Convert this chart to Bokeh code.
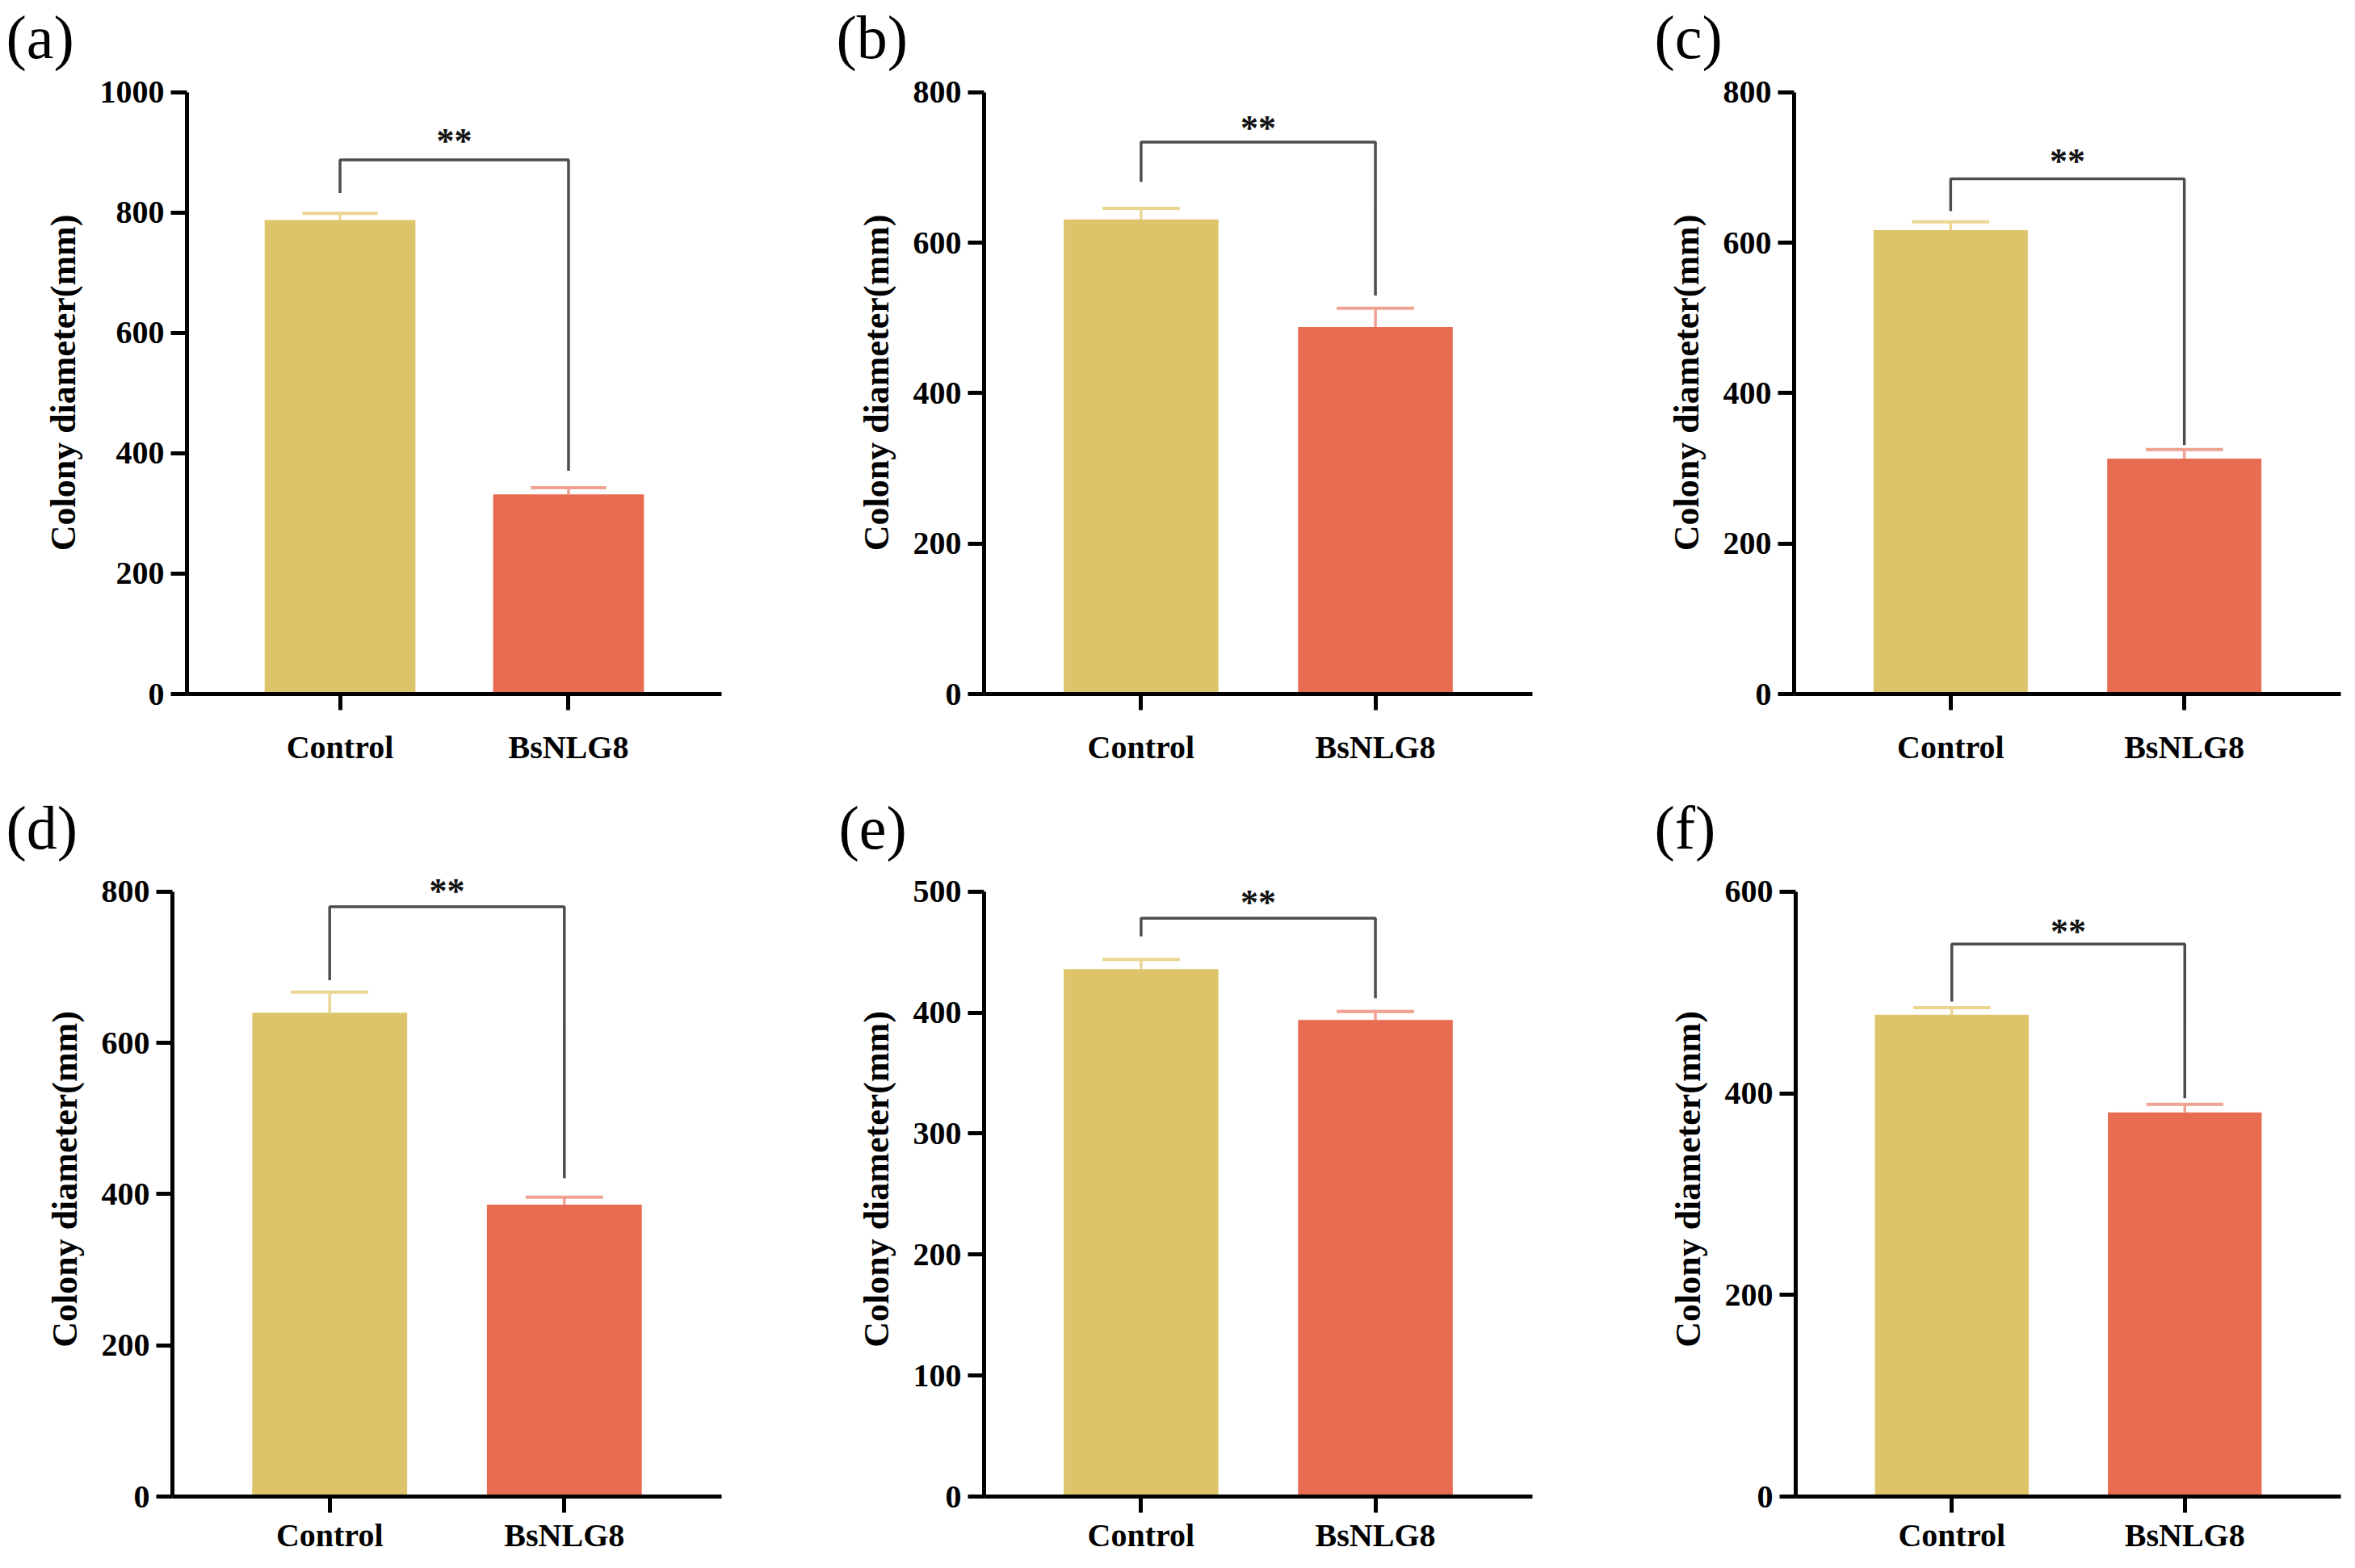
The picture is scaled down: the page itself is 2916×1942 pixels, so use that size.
from bokeh.plotting import figure
from bokeh.models import Range1d, FixedTicker, Title
from bokeh.layouts import column, row
from bokeh.embed import file_html
from bokeh.resources import INLINE
from bokeh.core.properties import value

# ---------------- data ----------------
categories = ["Control", "BsNLG8"]
panel_tags = ["(a)", "(b)", "(c)", "(d)", "(e)", "(f)"]
y_label = "Colony diameter(mm)"

a_mean = [788, 332]
a_err = [11, 11]
b_mean = [631, 488]
b_err = [15, 25]
c_mean = [617, 313]
c_err = [11, 12]
d_mean = [640, 386]
d_err = [27, 10]
e_mean = [436, 394]
e_err = [8, 7]
f_mean = [478, 381]
f_err = [7, 8]

# significance bracket: [left leg bottom, bracket top, right leg bottom, star level]
a_sig = [833, 888, 371, 933]
b_sig = [681, 734, 530, 763]
c_sig = [642, 685, 331, 719]
d_sig = [683, 780, 421, 812]
e_sig = [463, 478, 412, 498]
f_sig = [491, 548, 395, 569]
sig_text = "**"

y_max = [1000, 800, 800, 800, 500, 600]
y_ticks = [
    [0, 200, 400, 600, 800, 1000],
    [0, 200, 400, 600, 800],
    [0, 200, 400, 600, 800],
    [0, 200, 400, 600, 800],
    [0, 100, 200, 300, 400, 500],
    [0, 200, 400, 600],
]

means = [a_mean, b_mean, c_mean, d_mean, e_mean, f_mean]
errs = [a_err, b_err, c_err, d_err, e_err, f_err]
sigs = [a_sig, b_sig, c_sig, d_sig, e_sig, f_sig]

# ---------------- styles / layout ----------------
bar_colors = ["#DDC46B", "#E76C51"]
err_colors = ["#EAD690", "#EFA291"]
bracket_color = "#4D4D4D"
FONT = "Liberation Serif"

col_w = [952, 984, 964]
row_h = [963, 963]
# per row: top border, bottom border, pixel height of the axis (0..max tick)
row_top = [87, 104]
row_bottom = [104, 69]
axis_px = [746, 753]
# per column-panel: left, right border
lr_borders = [(231, 59), (266, 39), (285, 2), (213, 59), (266, 39), (287, 2)]
x_standoff = [23, 5]
tag_offset = [-224, -183, -173, -206, -180, -175]


def make_panel(k):
    r = k // 3
    w = col_w[k % 3]
    h = row_h[r]
    bl, br = lr_borders[k]
    bt, bb = row_top[r], row_bottom[r]
    frame_h = h - bt - bb
    y_end = y_max[k] * frame_h / axis_px[r]
    p = figure(width=w, height=h, output_backend="svg", toolbar_location=None,
               x_range=Range1d(-0.67, 1.67), y_range=Range1d(0, y_end),
               min_border_left=bl, min_border_right=br,
               min_border_top=bt, min_border_bottom=bb)
    p.background_fill_color = "white"
    p.border_fill_color = "white"
    p.outline_line_color = None
    p.xgrid.grid_line_color = None
    p.ygrid.grid_line_color = None

    idx = list(range(len(categories)))
    m = means[k]
    e = errs[k]
    tops = [mi + ei for mi, ei in zip(m, e)]

    p.vbar(x=idx, top=m, bottom=0, width=0.66, fill_color=bar_colors, line_color=None)
    # error bars (upper only)
    p.segment(x0=idx, y0=m, x1=idx, y1=tops, line_color=err_colors, line_width=3.5)
    p.segment(x0=[i - 0.165 for i in idx], y0=tops, x1=[i + 0.165 for i in idx], y1=tops,
              line_color=err_colors, line_width=4)

    s = sigs[k]
    p.line(x=[idx[0], idx[0], idx[1], idx[1]], y=[s[0], s[1], s[1], s[2]],
           line_color=bracket_color, line_width=3.5)
    p.text(x=[(idx[0] + idx[1]) / 2], y=[s[3]], text=[sig_text], y_offset=10,
           text_font=value(FONT), text_font_style="bold", text_font_size="44px",
           text_align="center", text_baseline="middle", text_color="#111111")

    # axes
    for ax in (p.xaxis[0], p.yaxis[0]):
        ax.axis_line_width = 5
        ax.axis_line_color = "black"
        ax.major_tick_line_width = 5
        ax.major_tick_line_color = "black"
        ax.minor_tick_line_color = None
        ax.major_tick_in = 0
        ax.major_label_text_font = FONT
        ax.major_label_text_font_style = "bold"
        ax.major_label_text_font_size = "40px"
        ax.major_label_text_color = "black"

    p.yaxis.ticker = FixedTicker(ticks=y_ticks[k])
    p.yaxis.bounds = (0, y_max[k])
    p.yaxis.major_tick_out = 20
    p.yaxis.major_label_standoff = 8
    p.yaxis.axis_label = y_label
    p.yaxis.axis_label_text_font = FONT
    p.yaxis.axis_label_text_font_style = "bold"
    p.yaxis.axis_label_text_font_size = "44px"
    p.yaxis.axis_label_text_color = "black"
    p.yaxis.axis_label_standoff = 18

    p.xaxis.ticker = FixedTicker(ticks=idx)
    p.xaxis.major_label_overrides = {i: c for i, c in zip(idx, categories)}
    p.xaxis.major_tick_out = 20
    p.xaxis.major_label_standoff = x_standoff[r]
    p.xaxis.major_label_text_line_height = 1.0

    p.add_layout(Title(text=panel_tags[k], align="left", offset=tag_offset[k],
                       text_font=FONT, text_font_size="76px", text_font_style="normal",
                       text_color="black", standoff=2), "above")
    return p


panels = [make_panel(k) for k in range(6)]
layout = column(row(*panels[:3], spacing=0), row(*panels[3:], spacing=0), spacing=0)

open("out.html", "w").write(file_html(layout, INLINE))
